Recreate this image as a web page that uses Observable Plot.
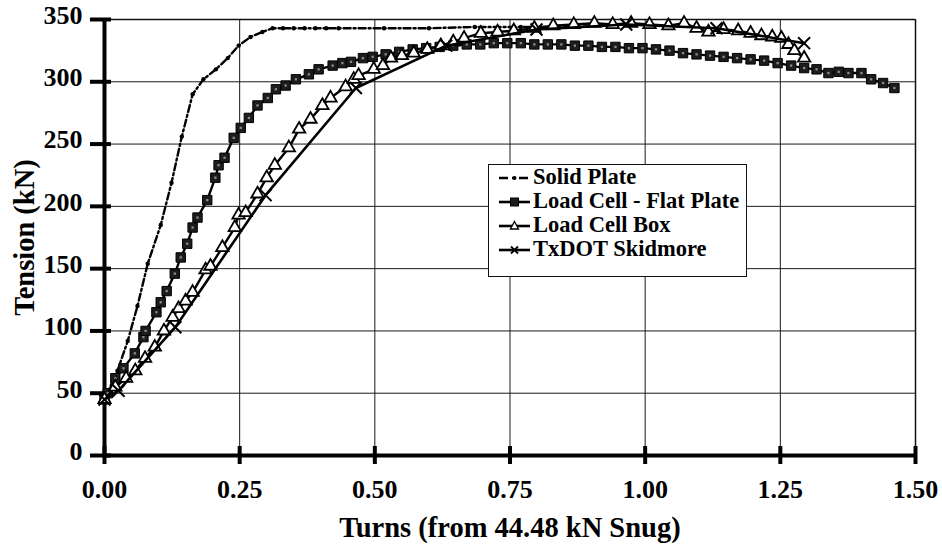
<!DOCTYPE html>
<html>
<head>
<meta charset="utf-8">
<script src="https://cdn.jsdelivr.net/npm/d3@7"></script>
<script src="https://cdn.jsdelivr.net/npm/@observablehq/plot@0.6"></script>
<style>
  html, body { margin: 0; padding: 0; background: #fff; }
  #wrap { position: relative; width: 942px; height: 544px; }
  #legend { position: absolute; left: 488px; top: 164px; width: 257px; height: 111px;
    border: 1px solid #111; background: #fff; box-sizing: content-box;
    font-family: 'Liberation Serif', 'Times New Roman', serif; font-weight: bold; font-size: 22.5px; color: #000; }
  .row { height: 24px; line-height: 24px; display: flex; align-items: center; white-space: nowrap; }
  .row svg { margin-left: 10px; margin-right: 3px; flex: none; }
</style>
</head>
<body>
<div id="wrap"><div id="legend"></div></div>
<script>
// ---- data ----
const xTicks = [0, 0.25, 0.5, 0.75, 1.0, 1.25, 1.5];
const yTicks = [0, 50, 100, 150, 200, 250, 300, 350];

const solidX = [0, 0.024, 0.043, 0.061, 0.080, 0.104, 0.124, 0.143, 0.163, 0.183, 0.206, 0.228, 0.248, 0.270, 0.292, 0.311, 0.330, 0.350, 0.370, 0.390, 0.410, 0.433, 0.517, 0.600, 0.685, 0.770, 0.855, 0.940];
const solidY = [45, 68, 92, 120, 154, 185, 219, 256, 290, 302, 310, 319, 329, 336, 340, 343, 343, 343, 343, 343, 343, 343, 343, 343, 344, 344, 344, 345];

const flatX = [0, 0.006, 0.020, 0.035, 0.056, 0.072, 0.076, 0.096, 0.104, 0.115, 0.130, 0.141, 0.153, 0.163, 0.172, 0.190, 0.205, 0.211, 0.222, 0.239, 0.252, 0.267, 0.283, 0.302, 0.317, 0.335, 0.354, 0.378, 0.396, 0.422, 0.440, 0.456, 0.478, 0.496, 0.520, 0.545, 0.570, 0.595, 0.620, 0.645, 0.670, 0.695, 0.720, 0.745, 0.770, 0.795, 0.820, 0.845, 0.870, 0.895, 0.920, 0.945, 0.970, 0.995, 1.020, 1.045, 1.070, 1.095, 1.120, 1.145, 1.170, 1.195, 1.220, 1.245, 1.270, 1.294, 1.317, 1.339, 1.358, 1.376, 1.400, 1.418, 1.440, 1.461];
const flatY = [45, 50, 62, 70, 82, 95, 100, 115, 123, 132, 146, 159, 170, 183, 191, 205, 223, 233, 239, 255, 263, 271, 281, 287, 294, 297, 302, 306, 310, 313, 315, 316, 319, 320, 322, 324, 326, 327, 328, 329, 330, 330, 331, 331, 331, 330, 330, 330, 329, 329, 328, 328, 327, 327, 326, 325, 323, 322, 321, 320, 319, 318, 317, 315, 313, 311, 310, 307, 308, 307, 307, 302, 299, 295];

const boxX = [0, 0.020, 0.040, 0.057, 0.075, 0.093, 0.110, 0.126, 0.137, 0.150, 0.163, 0.187, 0.196, 0.218, 0.241, 0.248, 0.261, 0.283, 0.300, 0.315, 0.341, 0.360, 0.381, 0.403, 0.418, 0.446, 0.461, 0.470, 0.498, 0.515, 0.530, 0.550, 0.572, 0.597, 0.622, 0.645, 0.665, 0.696, 0.727, 0.757, 0.795, 0.830, 0.868, 0.906, 0.940, 0.974, 1.008, 1.043, 1.072, 1.095, 1.117, 1.145, 1.172, 1.195, 1.215, 1.235, 1.252, 1.265, 1.276, 1.294];
const boxY = [45, 55, 62, 68, 78, 87, 100, 111, 118, 124, 131, 149, 152, 167, 183, 193, 195, 210, 223, 233, 247, 262, 270, 281, 287, 296, 302, 305, 310, 313, 319, 321, 323, 326, 329, 332, 335, 339, 340, 341, 343, 345, 346, 347, 346, 347, 346, 345, 347, 343, 340, 342, 341, 339, 337, 336, 335, 330, 325, 319];

const skidX = [0, 0.026, 0.131, 0.298, 0.465, 0.632, 0.799, 0.965, 1.132, 1.294];
const skidY = [45, 52, 103, 209, 295, 329, 342, 346, 343, 331];

const seriesNames = ["Solid Plate", "Load Cell - Flat Plate", "Load Cell Box", "TxDOT Skidmore"];
const xLabel = "Turns (from 44.48 kN Snug)";
const yLabel = "Tension (kN)";

// ---- build tables ----
const zip = (xs, ys) => xs.map((x, i) => ({x, y: ys[i]}));
const solid = zip(solidX, solidY);
const flat = zip(flatX, flatY);
const box = zip(boxX, boxY);
const skid = zip(skidX, skidY);

const font = "'Liberation Serif', 'Times New Roman', serif";

const chart = Plot.plot({
  width: 942,
  height: 544,
  marginLeft: 104,
  marginRight: 27,
  marginTop: 19,
  marginBottom: 89,
  style: {fontFamily: font, fontWeight: "bold", background: "#fff", color: "#000"},
  x: {domain: [0, 1.5]},
  y: {domain: [0, 350]},
  marks: [
    // grid
    Plot.ruleX(xTicks, {x: d => d, stroke: "#1a1a1a", strokeWidth: 1}),
    Plot.ruleY(yTicks, {y: d => d, stroke: "#1a1a1a", strokeWidth: 1}),
    // frame top/right
    Plot.ruleY([350], {stroke: "#111", strokeWidth: 1.5}),
    Plot.ruleX([1.5], {stroke: "#111", strokeWidth: 1.5}),
    // heavy axes
    Plot.ruleX([0], {stroke: "#000", strokeWidth: 4}),
    Plot.ruleY([0], {stroke: "#000", strokeWidth: 4}),
    // crossing tick marks
    Plot.ruleY(yTicks, {y: d => d, x1: 0, x2: 0, insetLeft: -14, insetRight: -7, stroke: "#000", strokeWidth: 4}),
    Plot.ruleX(xTicks, {x: d => d, y1: 0, y2: 0, insetTop: -9, insetBottom: -9, stroke: "#000", strokeWidth: 4}),
    // tick labels
    Plot.axisY(yTicks, {tickSize: 0, tickPadding: 22, fontSize: 26, fontWeight: "bold", label: null, dy: -4}),
    Plot.axisX(xTicks, {tickSize: 0, tickPadding: 24, fontSize: 26, fontWeight: "bold", label: null, tickFormat: d3.format(".2f")}),
    // axis titles
    Plot.text([xLabel], {frameAnchor: "bottom", textAnchor: "middle", lineAnchor: "middle", dy: 72, fontSize: 28.5, fontWeight: "bold", fill: "#000"}),
    Plot.text([yLabel], {frameAnchor: "left", textAnchor: "middle", lineAnchor: "middle", dx: -80, rotate: -90, fontSize: 28.5, fontWeight: "bold", fill: "#000"}),
    // Solid Plate: dash-dot with small dots
    Plot.line(solid, {x: "x", y: "y", stroke: "#000", strokeWidth: 2.4, strokeDasharray: "7 3 2 3"}),
    Plot.dot(solid, {x: "x", y: "y", r: 2.2, fill: "#000", stroke: "none"}),
    // Load Cell - Flat Plate: squares
    Plot.line(flat, {x: "x", y: "y", stroke: "#000", strokeWidth: 2.4}),
    Plot.dot(flat, {x: "x", y: "y", symbol: "square", r: 5.3, fill: "#1c1c1c", stroke: "#000", strokeWidth: 1}),
    Plot.dot(flat, {x: "x", y: "y", symbol: "square", r: 1.3, fill: "#8a8a8a", stroke: "none"}),
    // Load Cell Box: open triangles
    Plot.line(box, {x: "x", y: "y", stroke: "#000", strokeWidth: 2.4}),
    Plot.dot(box, {x: "x", y: "y", symbol: "triangle", r: 4.6, fill: "#fff", stroke: "#000", strokeWidth: 1.8}),
    // TxDOT Skidmore: x markers
    Plot.line(skid, {x: "x", y: "y", stroke: "#000", strokeWidth: 2.6}),
    Plot.dot(skid, {x: "x", y: "y", symbol: "times", r: 5.5, stroke: "#000", strokeWidth: 2})
  ]
});

document.getElementById("wrap").prepend(chart);

// ---- legend (HTML overlay) ----
const legend = document.getElementById("legend");
const ns = "http://www.w3.org/2000/svg";
function sym(i) {
  const s = document.createElementNS(ns, "svg");
  s.setAttribute("width", 31); s.setAttribute("height", 14);
  const l = document.createElementNS(ns, "line");
  l.setAttribute("x1", 0); l.setAttribute("x2", 31); l.setAttribute("y1", 8); l.setAttribute("y2", 8);
  l.setAttribute("stroke", "#000"); l.setAttribute("stroke-width", 2.6);
  if (i === 0) l.setAttribute("stroke-dasharray", "9 4 3 4");
  s.appendChild(l);
  let m;
  if (i === 0) { m = document.createElementNS(ns, "circle"); m.setAttribute("cx", 15.5); m.setAttribute("cy", 8); m.setAttribute("r", 2); m.setAttribute("fill", "#000"); }
  if (i === 1) { m = document.createElementNS(ns, "rect"); m.setAttribute("x", 11.5); m.setAttribute("y", 4); m.setAttribute("width", 8); m.setAttribute("height", 8); m.setAttribute("fill", "#1c1c1c"); m.setAttribute("stroke", "#000"); }
  if (i === 2) { m = document.createElementNS(ns, "path"); m.setAttribute("d", "M15.5,3.5L19.5,11L11.5,11Z"); m.setAttribute("fill", "#fff"); m.setAttribute("stroke", "#000"); m.setAttribute("stroke-width", 1.3); }
  if (i === 3) { m = document.createElementNS(ns, "path"); m.setAttribute("d", "M12,4.5L19,11.5M19,4.5L12,11.5"); m.setAttribute("stroke", "#000"); m.setAttribute("stroke-width", 1.8); }
  s.appendChild(m);
  return s;
}
seriesNames.forEach((name, i) => {
  const row = document.createElement("div");
  row.className = "row";
  row.appendChild(sym(i));
  const t = document.createElement("span");
  t.textContent = name;
  row.appendChild(t);
  legend.appendChild(row);
});
</script>
</body>
</html>
